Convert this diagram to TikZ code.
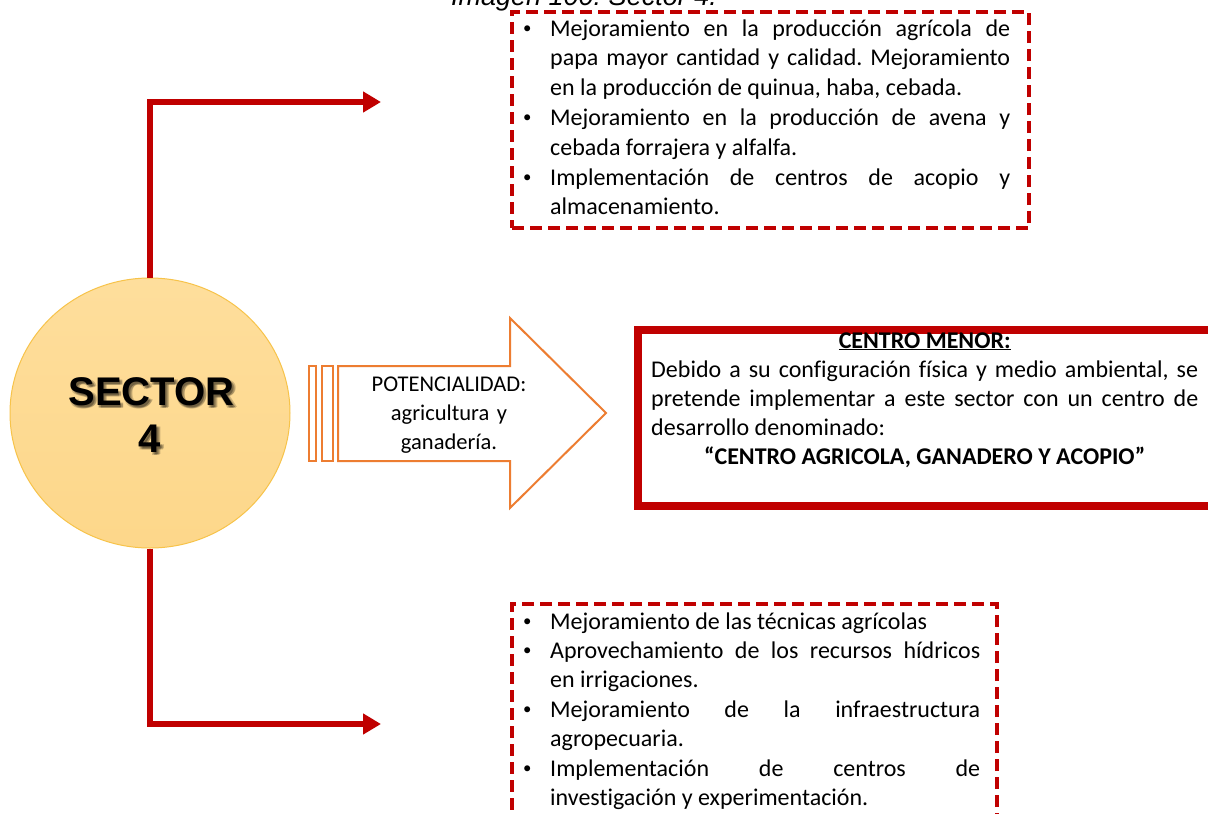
\documentclass[tikz,border=0pt]{standalone}
\usepackage{fontspec}
\setmainfont{Carlito}[Ligatures={NoCommon}]
\newfontfamily\arialf{Liberation Sans}
\usetikzlibrary{arrows.meta,shapes.geometric}
\definecolor{dred}{HTML}{C00000}
\definecolor{orng}{HTML}{ED7D31}
\definecolor{circfill}{HTML}{FDD78A}
\definecolor{circtop}{HTML}{FEDE9C}
\definecolor{circline}{HTML}{F7C34A}
\newcommand\bul{\noindent\hangindent=29pt\hangafter=1\makebox[29pt][l]{\hspace{2pt}\raisebox{2.5pt}{\scalebox{0.7}{•}}}}
\tikzset{
  redline/.style={draw=dred, line width=6pt, line join=miter, -{Triangle[length=18pt,width=20pt]}},
  dbox/.style={draw=dred, line width=4pt, dash pattern=on 12pt off 6pt, inner sep=0pt},
  bodytxt/.style={font=\fontsize{24}{29.8}\selectfont, inner sep=0pt, align=justify},
  sectxt/.style={font=\arialf\bfseries\fontsize{40}{48}\selectfont, inner sep=0pt, anchor=base},
  shadowtxt/.style={sectxt, text=black, text opacity=0.18},
  orngline/.style={draw=orng, line width=2pt, line join=miter}
}
\begin{document}
\begin{tikzpicture}[x=1pt,y=-1pt]
\useasboundingbox (0,0) rectangle (1208,814);
\clip (0,0) rectangle (1208,814);
\fill[white] (0,0) rectangle (1208,814);
\frenchspacing

% title (cut off)
\node[font=\arialf\itshape\fontsize{27}{32}\selectfont, anchor=base, inner sep=0pt] (ttl) at (584,5) {Imagen 100: Sector 4.};

% circle
\node[ellipse, minimum width=280pt, minimum height=270pt, draw=circline, line width=1pt, top color=circtop, bottom color=circfill] (sec) at (150,413) {};
\node[shadowtxt] (s1a) at (153,407) {SECTOR};
\node[shadowtxt] (s1b) at (154.5,408.5) {SECTOR};
\node[shadowtxt] (s1c) at (152.5,408.5) {SECTOR};
\node[shadowtxt] (s1d) at (155,407) {SECTOR};
\node[sectxt] (s1) at (151.5,405) {SECTOR};
\node[shadowtxt] (s2a) at (151.5,454) {4};
\node[shadowtxt] (s2b) at (153,455.5) {4};
\node[shadowtxt] (s2c) at (151,455.5) {4};
\node[shadowtxt] (s2d) at (153.5,454) {4};
\node[sectxt] (s2) at (150,452) {4};

% red connectors
\coordinate (ta) at (381,102);
\coordinate (ba) at (381,724);
\draw[redline] (sec.north) |- (ta);
\draw[redline] (sec.south) |- (ba);

% top dashed box
\node[dbox, minimum width=517pt, minimum height=216pt, anchor=north west] (tb) at (510,10) {};
\node[bodytxt, text width=489pt, anchor=base west] (tbt) at (521,36) {\hyphenpenalty=10000\tolerance=10000\frenchspacing
\bul Mejoramiento en la producción agrícola de\linebreak papa mayor cantidad y calidad. Mejoramiento\linebreak en la producción de quinua, haba, cebada.\par
\bul Mejoramiento en la producción de avena y\linebreak cebada forrajera y alfalfa.\par
\bul Implementación de centros de acopio y\linebreak almacenamiento.\par};

% bottom dashed box
\node[dbox, minimum width=485pt, minimum height=240pt, anchor=north west] (bb) at (510,602) {};
\node[bodytxt, font=\fontsize{24}{29.4}\selectfont, text width=459pt, anchor=base west] (bbt) at (521,629) {\hyphenpenalty=10000\tolerance=10000\frenchspacing
\bul Mejoramiento de las técnicas agrícolas\par
\bul Aprovechamiento de los recursos hídricos\linebreak en irrigaciones.\par
\bul Mejoramiento de la infraestructura\linebreak agropecuaria.\par
\bul Implementación de centros de\linebreak investigación y experimentación.\par};

% orange arrow
\draw[orngline] (309,366) rectangle (316,461);
\draw[orngline] (322,366) rectangle (333,461);
\draw[orngline, fill=white] (338,366) -- (510,366) -- (510,318) -- (606,413) -- (510,508) -- (510,461) -- (338,461) -- cycle;
\node[font=\fontsize{22.5}{29.2}\selectfont, text width=180pt, align=center, anchor=base, inner sep=0pt] (pot) at (449,391) {POTENCIALIDAD:\\agricultura y\\ganadería.};

% centro menor box
\node[draw=dred, line width=8pt, minimum width=640pt, minimum height=176pt, anchor=north west, inner sep=0pt] (cm) at (634,326) {};
\node[font=\fontsize{24}{29.2}\selectfont, text width=547pt, align=justify, anchor=base west, inner sep=0pt] (cmt) at (651,348) {\hyphenpenalty=10000\tolerance=10000\frenchspacing
{\centering\bfseries\underline{CENTRO MENOR:}\par}
Debido a su configuración física y medio ambiental, se\linebreak pretende implementar a este sector con un centro de\linebreak desarrollo denominado:\par
{\centering\bfseries “CENTRO AGRICOLA, GANADERO Y ACOPIO”\par}};
\end{tikzpicture}
\end{document}
